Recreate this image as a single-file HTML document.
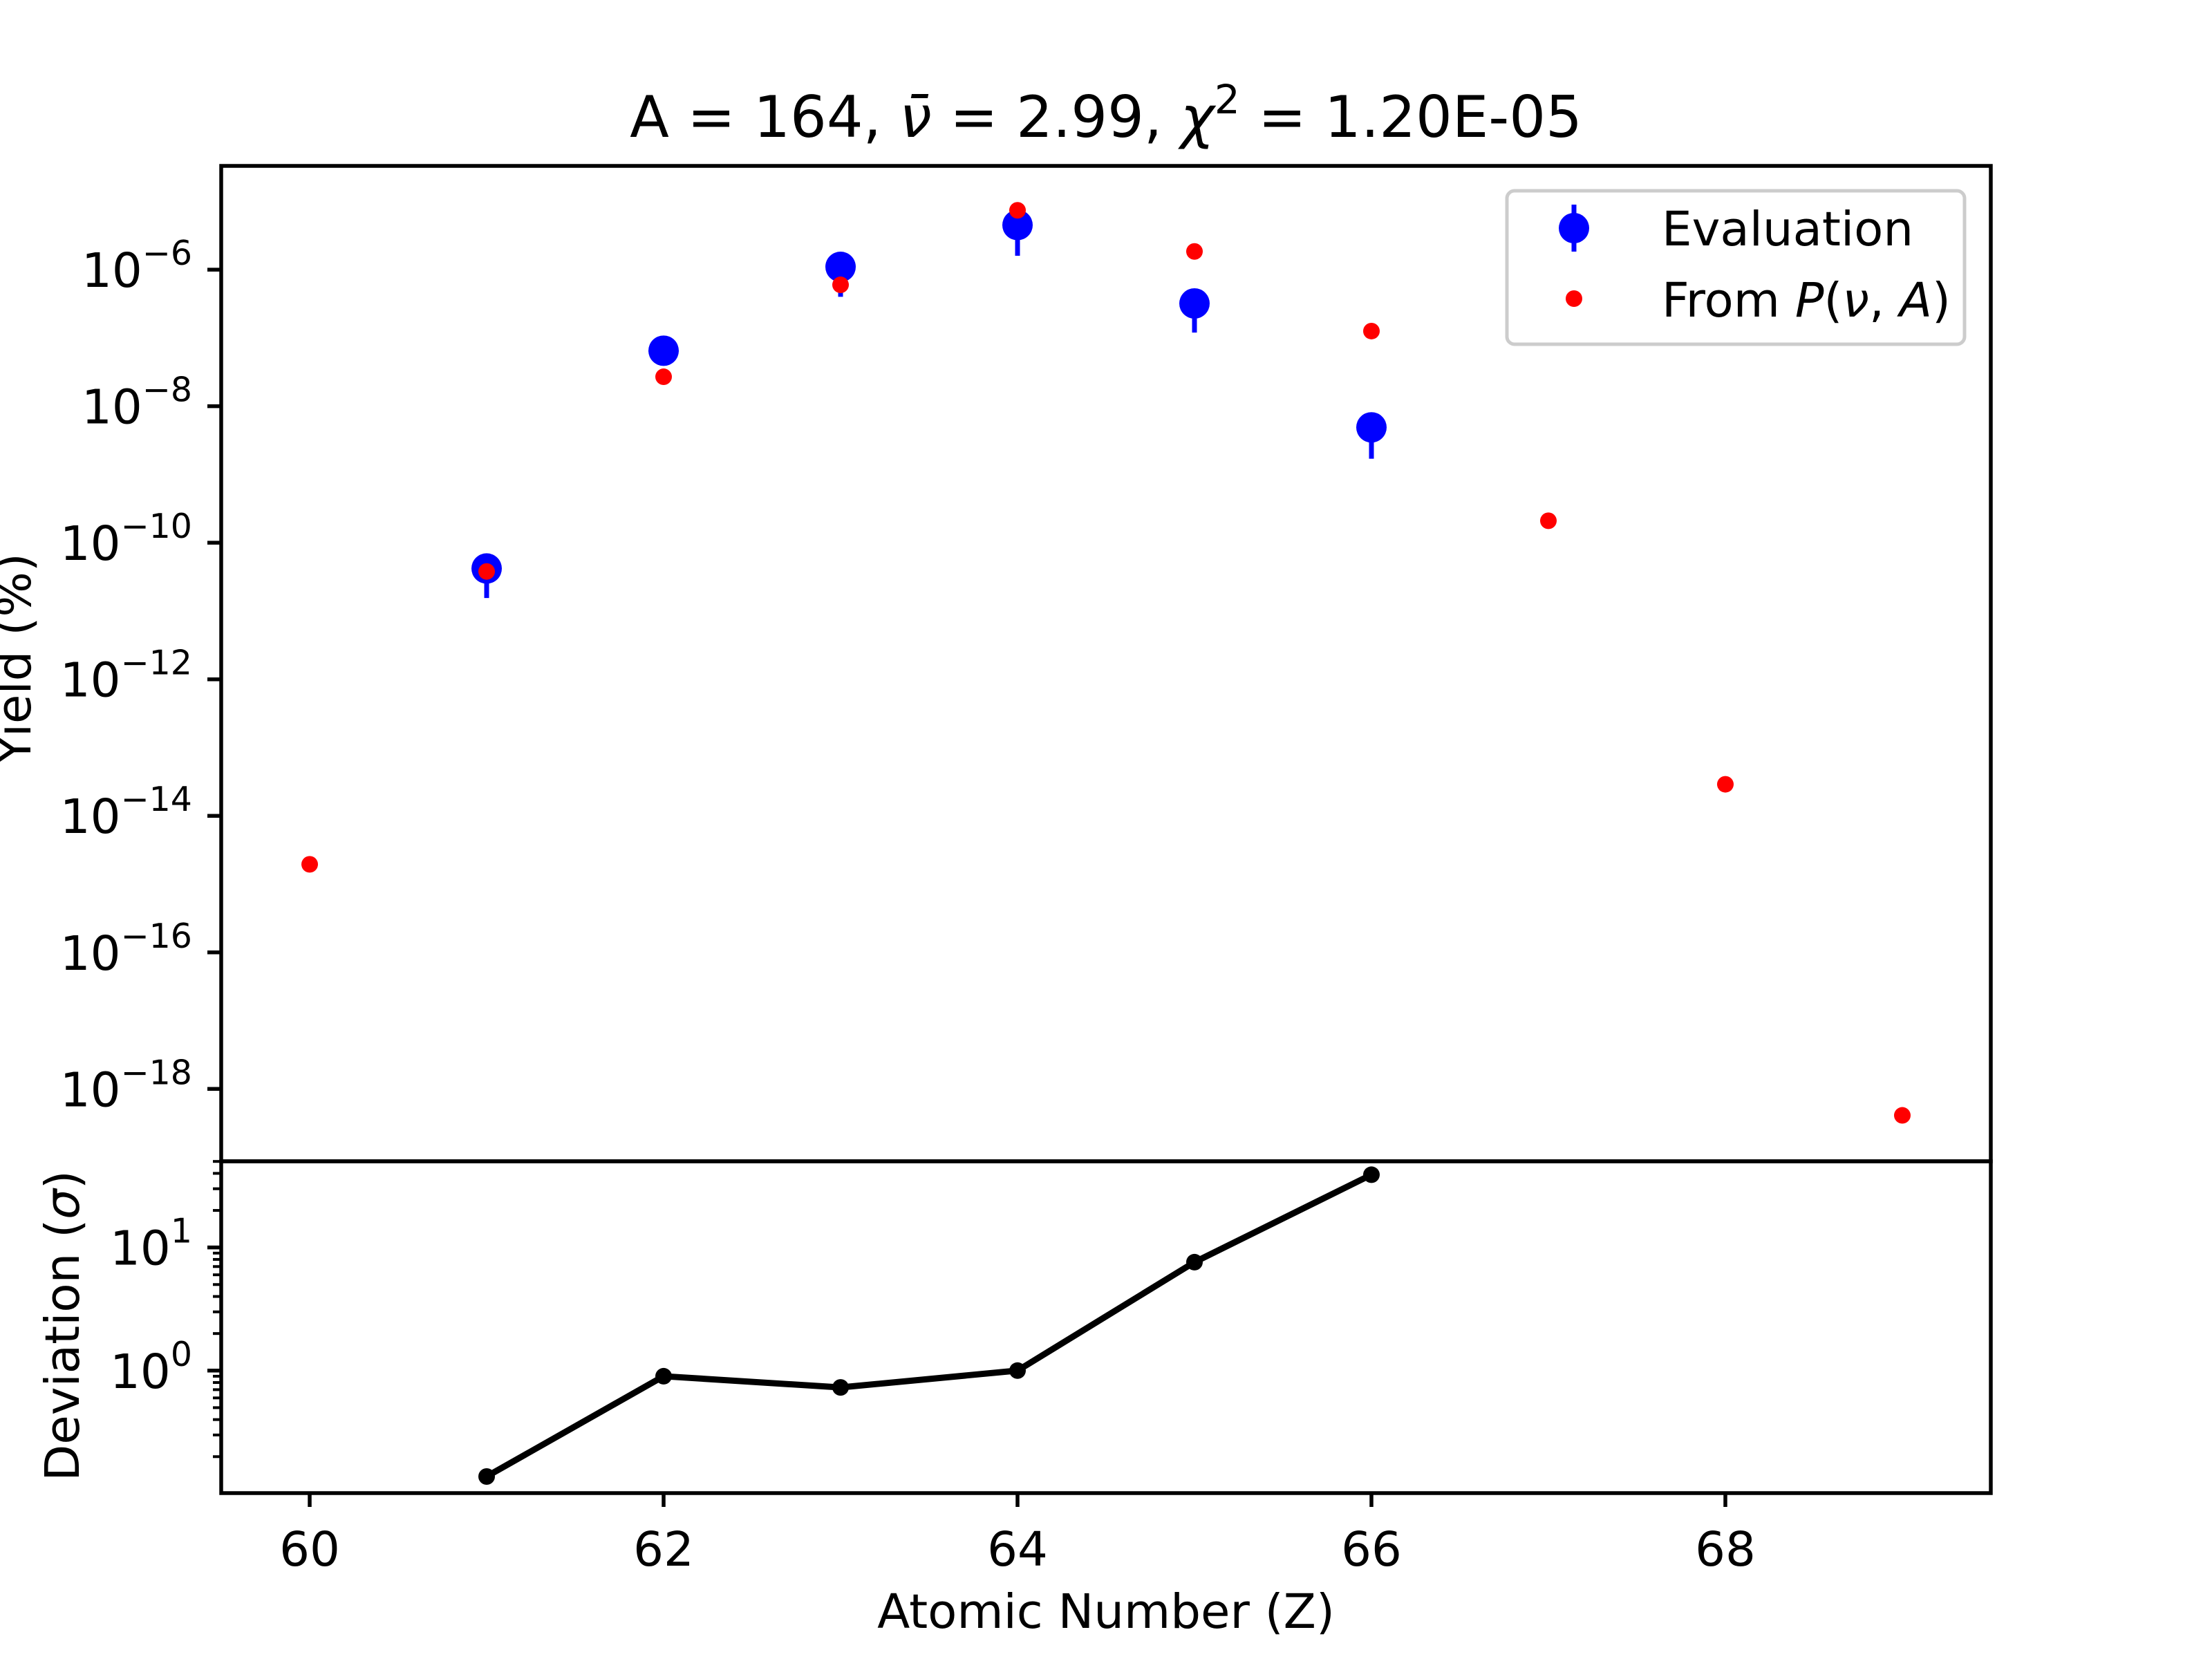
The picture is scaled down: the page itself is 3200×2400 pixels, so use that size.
<!DOCTYPE html>
<html><head><meta charset="utf-8"><style>
html,body{margin:0;padding:0;background:#fff}
svg{display:block}
text{font-family:"DejaVu Sans","Liberation Sans",sans-serif;fill:#000}
</style></head><body>
<svg id="chart" width="3200" height="2400" viewBox="0 0 3200 2400" xmlns="http://www.w3.org/2000/svg"></svg>
<script>
const zValues = [60,61,62,63,64,65,66,67,68,69];
const evalZ = [61,62,63,64,65,66];
const evalYield = [4.2e-11,6.5e-8,1.1e-6,4.5e-6,3.2e-7,4.9e-9];
const evalErr = [2.65e-11,2e-8,0.7e-6,2.9e-6,2e-7,3.2e-9];
const modelYield = [1.95e-15,3.8e-11,2.7e-8,6e-7,7.4e-6,1.85e-6,1.26e-7,2.1e-10,2.9e-14,4.1e-19];
const devZ = [61,62,63,64,65,66];
const devValues = [0.138,0.90,0.73,1.0,7.6,39];
const xTicks = [60,62,64,66,68];
const yMainTickExp = [-6,-8,-10,-12,-14,-16,-18];
const yDevTickExp = [1,0];

const NS="http://www.w3.org/2000/svg";
const svg=document.getElementById('chart');
function mk(tag,attrs,parent){const e=document.createElementNS(NS,tag);for(const k in attrs)e.setAttribute(k,attrs[k]);(parent||svg).appendChild(e);return e;}

const L=320,R=2880,T=240,M=1680,B=2160;
const FS=69, SUP=49;
const x=z=>L+(z-59.5)/10*(R-L);
const yMainLo=-19.06,yMainHi=-4.48;
const yMain=v=>M-(Math.log10(v)-yMainLo)/(yMainHi-yMainLo)*(M-T);
const yDevLo=-0.995,yDevHi=1.70;
const yDev=v=>B-(Math.log10(v)-yDevLo)/(yDevHi-yDevLo)*(B-M);

const title=mk('text',{x:1600,y:198,'text-anchor':'middle','font-size':83});


title.innerHTML='A = 164, <tspan font-style="italic">ν̄</tspan> = 2.99, <tspan font-style="italic">χ</tspan><tspan font-size="58" dy="-34">2</tspan><tspan dy="34"> = 1.20E-05</tspan>';

for(const e of yMainTickExp){
  const yy=yMain(Math.pow(10,e));
  const t=mk('line',{x1:L-20,x2:L,y1:yy,y2:yy,stroke:'#000','stroke-width':5.5});
  
  
  const lab=mk('text',{x:L-42,y:yy+25,'text-anchor':'end','font-size':FS});
  
  
  lab.innerHTML='10<tspan font-size="'+SUP+'" dy="-32">−'+(-e)+'</tspan>';
}
for(let d=-1;d<=1;d++){
  for(let m=1;m<10;m++){
    const v=m*Math.pow(10,d);
    if(Math.log10(v)<yDevLo||Math.log10(v)>yDevHi) continue;
    const yy=yDev(v);
    const major=(m===1);
    const t=mk('line',{x1:L-(major?20:12),x2:L,y1:yy,y2:yy,stroke:'#000','stroke-width':major?5.5:4});
    
    
  }
}
for(const e of yDevTickExp){
  const yy=yDev(Math.pow(10,e));
  const lab=mk('text',{x:L-42,y:yy+25,'text-anchor':'end','font-size':FS});
  
  
  lab.innerHTML='10<tspan font-size="'+SUP+'" dy="-32">'+e+'</tspan>';
}
for(const z of xTicks){
  const xx=x(z);
  const t=mk('line',{x1:xx,x2:xx,y1:B,y2:B+20,stroke:'#000','stroke-width':5.5});
  
  
  const lab=mk('text',{x:xx,y:B+105,'text-anchor':'middle','font-size':FS});
  
  
  lab.textContent=z;
}

const yl=mk('text',{x:0,y:0,'text-anchor':'middle','font-size':FS,transform:'translate(44,953) rotate(-90)'});


yl.textContent='Yield (%)';
const dl=mk('text',{x:0,y:0,'text-anchor':'middle','font-size':FS,transform:'translate(114,1918) rotate(-90)'});


dl.innerHTML='Deviation (<tspan font-style="italic">σ</tspan>)';
const xl=mk('text',{x:1600,y:2355,'text-anchor':'middle','font-size':FS});


xl.textContent='Atomic Number (Z)';

evalZ.forEach((z,i)=>{
  const v=evalYield[i],e=evalErr[i];
  const lo=Math.max(v-e,1e-30);
  const bar=mk('line',{x1:x(z),x2:x(z),y1:yMain(v+e),y2:yMain(lo),stroke:'#0000ff','stroke-width':7});
  
  
  const c=mk('circle',{cx:x(z),cy:yMain(v),r:22,fill:'#0000ff'});
  
  
});
zValues.forEach((z,i)=>{
  const c=mk('circle',{cx:x(z),cy:yMain(modelYield[i]),r:12,fill:'#ff0000'});
  
  
});
const pts=devZ.map((z,i)=>x(z)+','+yDev(devValues[i])).join(' ');
const pl=mk('polyline',{points:pts,fill:'none',stroke:'#000','stroke-width':9,'stroke-linejoin':'round'});


devZ.forEach((z,i)=>{
  const c=mk('circle',{cx:x(z),cy:yDev(devValues[i]),r:12,fill:'#000'});
  
  
});

const f1=mk('rect',{x:L,y:T,width:R-L,height:M-T,fill:'none',stroke:'#000','stroke-width':5.5});


const f2=mk('rect',{x:L,y:M,width:R-L,height:B-M,fill:'none',stroke:'#000','stroke-width':5.5});



const lg=mk('g',{});


mk('rect',{x:2180,y:276,width:662,height:222,rx:11,fill:'#fff','fill-opacity':0.8,stroke:'#cccccc','stroke-width':5},lg);
const le1=mk('g',{},lg);


mk('line',{x1:2277,x2:2277,y1:296,y2:364,stroke:'#0000ff','stroke-width':7},le1);
mk('circle',{cx:2277,cy:330,r:22,fill:'#0000ff'},le1);
const t1=mk('text',{x:2404,y:355,'font-size':FS},le1);
t1.textContent='Evaluation';
const le2=mk('g',{},lg);


mk('circle',{cx:2277,cy:432,r:12,fill:'#ff0000'},le2);
const t2=mk('text',{x:2404,y:458,'font-size':FS},le2);
t2.innerHTML='From <tspan font-style="italic">P</tspan>(<tspan font-style="italic">ν</tspan>, <tspan font-style="italic">A</tspan>)';
</script>
</body></html>
